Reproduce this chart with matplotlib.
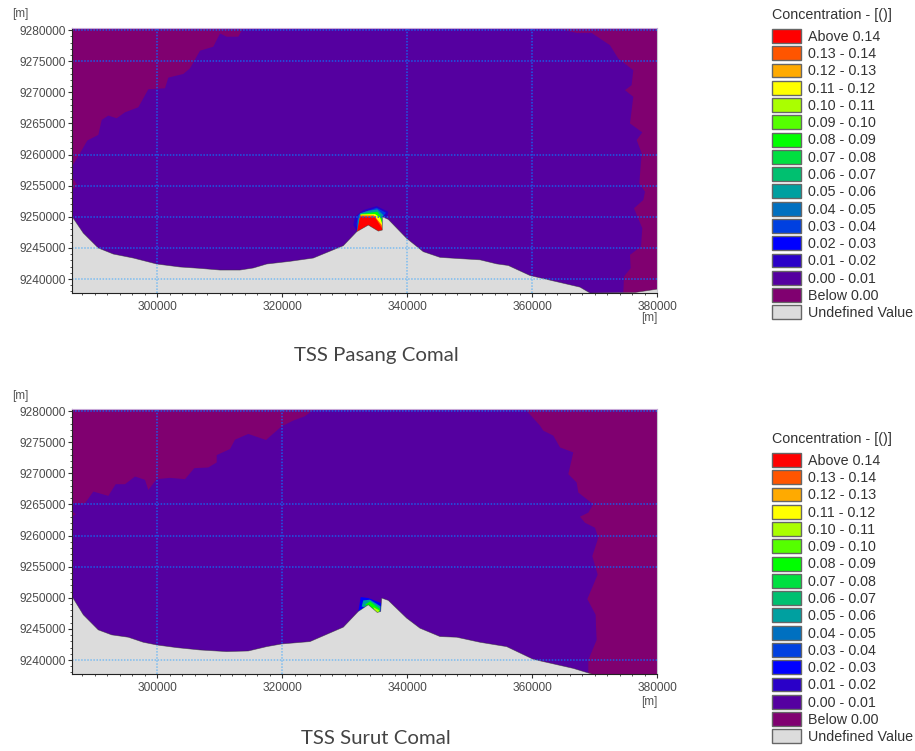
import matplotlib
matplotlib.use('Agg')
import matplotlib.pyplot as plt
from matplotlib.patches import Patch
from matplotlib.ticker import MultipleLocator, FuncFormatter

plt.rcParams['font.family'] = ['Liberation Sans', 'DejaVu Sans']

W, H = 915, 751

# legend
legend_title = 'Concentration - [()]'
legend_labels = ['Above 0.14', '0.13 - 0.14', '0.12 - 0.13', '0.11 - 0.12', '0.10 - 0.11',
                 '0.09 - 0.10', '0.08 - 0.09', '0.07 - 0.08', '0.06 - 0.07', '0.05 - 0.06',
                 '0.04 - 0.05', '0.03 - 0.04', '0.02 - 0.03', '0.01 - 0.02', '0.00 - 0.01',
                 'Below 0.00', 'Undefined Value']
legend_colors = ['#ff0000', '#ff5500', '#ffaa00', '#ffff00', '#aaff00', '#55ff00', '#00ff00',
                 '#00e040', '#00c070', '#00a0a0', '#0070c0', '#0040e0', '#0000ff', '#2a00c8',
                 '#5500a0', '#800070', '#dcdcdc']
MAIN, BELOW, LAND = legend_colors[14], legend_colors[15], legend_colors[16]

XMIN, XMAX = 286400, 380000
YMIN, YMAX = 9237750, 9280350

# ---------- TSS Pasang Comal ----------
p_left_x = [286400, 287680, 288850, 290610, 291150, 292210, 293550, 294880, 297010, 298610,
            301280, 301810, 304210, 305280, 306880, 309010, 310080, 311150, 313010, 313810]
p_left_y = [9258080, 9260220, 9262260, 9263170, 9265570, 9266270, 9265840, 9266800, 9267600, 9270500,
            9270660, 9272370, 9272960, 9273870, 9276700, 9277340, 9279480, 9278950, 9278950, 9280350]
p_notch_x = [286400, 287250, 286400]
p_notch_y = [9256480, 9255000, 9254340]
p_right_x = [363680, 367150, 369550, 372480, 373810, 376210, 375940, 374880, 376210, 375680, 377650,
             376750, 377550, 377170, 378080, 377810, 376320, 377650, 377440, 375680, 375790, 374720, 374610]
p_right_y = [9280350, 9279560, 9279560, 9277580, 9275440, 9273570, 9271160, 9270360, 9269290, 9265010, 9263570,
             9262340, 9260200, 9255380, 9254040, 9252700, 9251370, 9248160, 9245220, 9243880, 9241740, 9240400, 9237750]
p_coast_x = [286400, 288210, 290610, 293010, 296210, 299950, 303680, 306880, 310080, 313280, 315410,
             317550, 321280, 325010, 329810, 331950, 333810, 335410, 336050, 336050, 337010, 339950,
             342610, 345280, 348000, 351680, 354350, 356210, 359680, 364480, 367680, 369280, 376480, 380000]
p_coast_y = [9250060, 9247380, 9244980, 9244010, 9243370, 9242410, 9241930, 9241710, 9241440, 9241440, 9241770,
             9242410, 9242840, 9243370, 9245350, 9247600, 9248670, 9247700, 9247870, 9250010, 9249580, 9246530,
             9244390, 9243480, 9243300, 9243080, 9242430, 9242170, 9240560, 9239440, 9238690, 9237750, 9237830, 9238370]
p_grid_h = [9280000, 9275000, 9260000, 9255000, 9250000, 9245000, 9240000]
p_grid_v = [300000, 340000, 360000]

p_band1_x = [331410, 331680, 333010, 335150, 337010, 336850, 336050, 336050, 332050]
p_band1_y = [9248670, 9250010, 9251080, 9251720, 9250810, 9250010, 9249580, 9247600, 9247600]
p_band2_x = [331950, 332210, 333280, 335150, 336640, 336050, 336050, 332050]
p_band2_y = [9248940, 9250280, 9250810, 9251450, 9250650, 9249900, 9247600, 9247600]
p_band3_x = [332210, 332480, 333810, 335250, 336210, 336050, 336050, 332050]
p_band3_y = [9249480, 9250550, 9250970, 9251190, 9250280, 9249740, 9247600, 9247600]
p_band4_x = [332370, 332590, 334080, 335250, 336050, 336050, 332050]
p_band4_y = [9248670, 9250440, 9250650, 9250810, 9249740, 9247760, 9247600]
p_band5_x = [332370, 332590, 334880, 335680, 336110, 336110, 332050]
p_band5_y = [9248410, 9250380, 9250440, 9249900, 9248670, 9247760, 9247600]
p_band6_x = [332210, 332480, 334720, 335950, 336110, 332050]
p_band6_y = [9248140, 9250220, 9250220, 9248670, 9247760, 9247600]
p_band7_x = [332050, 332480, 334880, 336110, 336110, 332050]
p_band7_y = [9247870, 9250010, 9249900, 9247980, 9247760, 9247600]

# ---------- TSS Surut Comal ----------
s_left_x = [286400, 288480, 289810, 292210, 293390, 294880, 296480, 298080, 298610, 299950, 302080,
            304480, 305970, 308210, 309550, 309550, 311680, 312480, 314610, 317440, 319950, 321810,
            323680, 325010, 326350]
s_left_y = [9265190, 9265190, 9267080, 9266380, 9268260, 9268260, 9269500, 9268960, 9267350, 9269070, 9269280,
            9269070, 9270840, 9270950, 9271760, 9272940, 9273910, 9275420, 9276340, 9275370, 9277570, 9278490,
            9279190, 9280200, 9280350]
s_notch_x = [286400, 287000, 286400]
s_notch_y = [9263950, 9263420, 9263060]
s_right_x = [358880, 361280, 361810, 363410, 364480, 366610, 365810, 367150, 367410, 369810, 369010, 367680,
             368480, 370080, 370610, 369650, 370510, 368850, 370190, 370240, 370350, 369010, 369010]
s_right_y = [9280350, 9277680, 9276870, 9276070, 9274180, 9273370, 9269880, 9268530, 9266920, 9265030, 9263690, 9263040,
             9262070, 9261260, 9259650, 9256690, 9253730, 9249800, 9247270, 9245380, 9243230, 9240000, 9237750]
s_coast_x = [286400, 288210, 290610, 292750, 295410, 297810, 299950, 303150, 306880, 311150, 314610, 317550,
             319950, 324480, 329810, 332210, 333810, 335250, 335790, 335950, 337010, 339950, 342080, 345280,
             347950, 351680, 355950, 360210, 366610, 369550]
s_coast_y = [9250230, 9247270, 9244840, 9244040, 9243660, 9242850, 9242420, 9241990, 9241610, 9241350, 9241450, 9242150,
             9242580, 9242960, 9245280, 9247810, 9248880, 9247640, 9247810, 9249960, 9249580, 9246730, 9245110, 9243770,
             9243660, 9242850, 9242150, 9240110, 9238650, 9237750]
s_grid_h = [9280000, 9265000, 9260000, 9255000, 9240000]
s_grid_v = [300000, 320000]

s_band1_x = [332210, 332590, 333810, 335840, 335840]
s_band1_y = [9247810, 9250120, 9249960, 9249150, 9247640]
s_band2_x = [332750, 333010, 334080, 335790, 335680]
s_band2_y = [9248610, 9249580, 9249690, 9248610, 9247540]
s_band3_x = [333280, 334080, 335680, 335570, 335040]
s_band3_y = [9248880, 9249420, 9248180, 9247540, 9247810]
s_band4_x = [334610, 335570, 335410, 334880]
s_band4_y = [9248500, 9247970, 9247540, 9247810]

p_bands = [(13, p_band1_x, p_band1_y), (11, p_band2_x, p_band2_y), (9, p_band3_x, p_band3_y),
           (6, p_band4_x, p_band4_y), (3, p_band5_x, p_band5_y), (1, p_band6_x, p_band6_y),
           (0, p_band7_x, p_band7_y)]
s_bands = [(12, s_band1_x, s_band1_y), (9, s_band2_x, s_band2_y), (6, s_band3_x, s_band3_y),
           (4, s_band4_x, s_band4_y)]


def px_box(left, top, right, bottom):
    return [left / W, 1 - bottom / H, (right - left) / W, (bottom - top) / H]


def draw_panel(box, left, notch, right, coast, bands, grid_h, grid_v):
    ax = fig.add_axes(px_box(*box))
    ax.set_facecolor(MAIN)
    ax.set_xlim(XMIN, XMAX)
    ax.set_ylim(YMIN, YMAX)

    ax.fill(left[0] + [XMIN], left[1] + [YMAX], color=BELOW, lw=0, zorder=1)
    ax.fill(notch[0], notch[1], color=BELOW, lw=0, zorder=1)
    ax.fill(right[0] + [XMAX, XMAX], right[1] + [YMIN, YMAX], color=BELOW, lw=0, zorder=1)
    for idx, xs, ys in bands:
        ax.fill(xs, ys, color=legend_colors[idx], lw=0, zorder=2)

    # dotted grid, paler where it runs over the land
    ax.hlines(grid_h, XMIN, XMAX, color='#1a5ce8', lw=1.1, ls=(0, (1, 1)), zorder=3)
    ax.vlines(grid_v, YMIN, YMAX, color='#1a5ce8', lw=1.1, ls=(0, (1, 1)), zorder=3)
    land = ax.fill(coast[0] + [XMAX, XMIN], coast[1] + [YMIN, YMIN], color=LAND, lw=0, zorder=4)[0]
    ax.plot(coast[0], coast[1], color='#303030', lw=0.5, alpha=0.6, zorder=5)
    pale_h = ax.hlines(grid_h, XMIN, XMAX, color='#7cbcf0', lw=1.1, ls=(0, (1, 1)), zorder=6)
    pale_v = ax.vlines(grid_v, YMIN, YMAX, color='#7cbcf0', lw=1.1, ls=(0, (1, 1)), zorder=6)
    pale_h.set_clip_path(land)
    pale_v.set_clip_path(land)

    ax.xaxis.set_major_locator(MultipleLocator(20000))
    ax.xaxis.set_minor_locator(MultipleLocator(2000))
    ax.yaxis.set_major_locator(MultipleLocator(5000))
    ax.yaxis.set_minor_locator(MultipleLocator(1000))
    fmt = FuncFormatter(lambda v, pos: f'{v:.0f}')
    ax.xaxis.set_major_formatter(fmt)
    ax.yaxis.set_major_formatter(fmt)
    ax.tick_params(which='major', length=3, width=0.8, color='#333333', labelsize=8.6,
                   labelcolor='#4a4a4a', pad=3)
    ax.tick_params(axis='y', which='major', pad=1.5)
    ax.tick_params(which='minor', length=1.5, width=0.7, color='#555555')
    ax.spines['left'].set_color('#222222')
    ax.spines['bottom'].set_color('#222222')
    ax.spines['top'].set_color('#c8a8d8')
    ax.spines['right'].set_color('#c8c8d0')
    for s in ax.spines.values():
        s.set_zorder(8)
    return ax


def px_text(x, y, s, **kw):
    fig.text(x / W, 1 - y / H, s, va='center', **kw)


def draw_legend(x, y):
    handles = [Patch(facecolor=c, edgecolor='#666666', lw=1) for c in legend_colors]
    fs = 10.3
    px_text(x, y, legend_title, ha='left', fontsize=fs, color='#333333')
    fig.legend(handles, legend_labels, loc='upper left', bbox_to_anchor=(x / W, 1 - (y + 14) / H),
               frameon=False, fontsize=fs, borderpad=0, borderaxespad=0, handlelength=21 / fs,
               handleheight=11.5 / fs, labelspacing=1.78 / fs, handletextpad=5.2 / fs,
               labelcolor='#333333')


fig = plt.figure(figsize=(W / 100, H / 100), dpi=100)

draw_panel((72, 28, 657, 293), (p_left_x, p_left_y), (p_notch_x, p_notch_y), (p_right_x, p_right_y),
           (p_coast_x, p_coast_y), p_bands, p_grid_h, p_grid_v)
draw_panel((72, 409, 657, 674), (s_left_x, s_left_y), (s_notch_x, s_notch_y), (s_right_x, s_right_y),
           (s_coast_x, s_coast_y), s_bands, s_grid_h, s_grid_v)

px_text(20, 14, '[m]', ha='center', fontsize=8.5, color='#555555')
px_text(649, 318, '[m]', ha='center', fontsize=8.5, color='#555555')
px_text(20, 396, '[m]', ha='center', fontsize=8.5, color='#555555')
px_text(649, 702, '[m]', ha='center', fontsize=8.5, color='#555555')

px_text(376, 356, 'TSS Pasang Comal', ha='center', fontsize=14.7, color='#444444', family='Lato')
px_text(376, 738, 'TSS Surut Comal', ha='center', fontsize=14.7, color='#444444', family='Lato')

draw_legend(772, 15)
draw_legend(772, 439)

fig.savefig('out.png', dpi=100)
